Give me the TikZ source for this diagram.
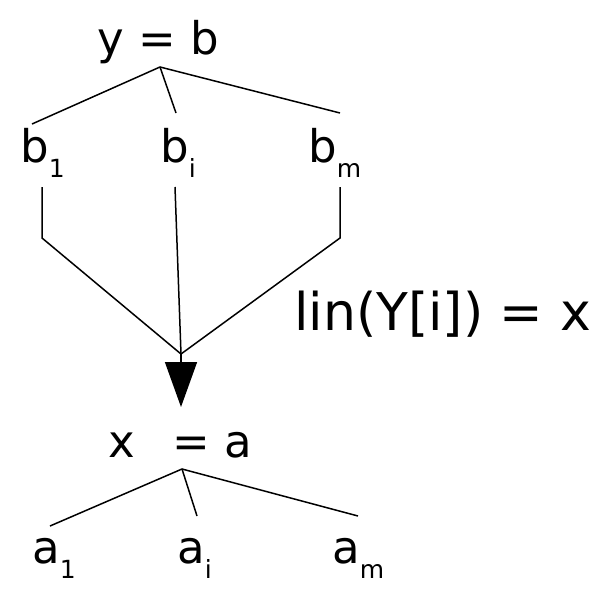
\documentclass[tikz,border=0pt]{standalone}
\usepackage{fontspec}
\setmainfont{DejaVu Sans}
\usetikzlibrary{arrows.meta}
\newcommand{\subidx}[1]{\raisebox{-15pt}{\fontsize{25}{28}\selectfont #1}}

\begin{document}
\begin{tikzpicture}[x=1pt, y=-1pt, >={Triangle[length=45pt, width=32pt]},
  term/.style={font=\fontsize{45}{50}\selectfont, inner sep=0pt, anchor=base west},
  edge/.style={line width=1.5pt}]
  \useasboundingbox (0,0) rectangle (601,594);

  % Upper tuple y = b and its components
  \node[term] (ytop) at (97,55) {y = b};
  \node[term] (b1) at (20,162) {b\subidx{1}};
  \node[term] (bi) at (160,162) {b\subidx{i}};
  \node[term] (bm) at (308,162) {b\subidx{m}};

  \coordinate (ytip) at (160,67);
  \coordinate (b1top) at (32,124);
  \coordinate (bitop) at (176,113);
  \coordinate (bmtop) at (340,113);
  \draw[edge] (b1top) -- (ytip) -- (bmtop);
  \draw[edge] (ytip) -- (bitop);

  % Component lines merging into the arrow
  \coordinate (b1low) at (42,187);
  \coordinate (bilow) at (175,187);
  \coordinate (bmlow) at (340,187);
  \coordinate (b1bend) at (42,238);
  \coordinate (bmbend) at (340,238);
  \coordinate (merge) at (181,354);
  \coordinate (arrowend) at (181,407);
  \draw[edge] (b1low) -- (b1bend) -- (merge) -- (bmbend) -- (bmlow);
  \draw[edge] (bilow) -- (merge);
  \draw[edge, ->] (merge) -- (arrowend);

  % Label of the mapping
  \node[term, font=\fontsize{52}{58}\selectfont] (lin) at (294,330) {lin(Y[i]) = x};

  % Lower tuple x = a and its components
  \node[term] (xbot) at (108,457) {x\hspace{38pt}= a};
  \node[term] (a1) at (32,563) {a\subidx{1}};
  \node[term] (ai) at (177,563) {a\subidx{i}};
  \node[term] (am) at (332,563) {a\subidx{m}};

  \coordinate (xtip) at (182,469);
  \coordinate (a1top) at (50,526);
  \coordinate (aitop) at (197,516);
  \coordinate (amtop) at (358,516);
  \draw[edge] (a1top) -- (xtip) -- (amtop);
  \draw[edge] (xtip) -- (aitop);
\end{tikzpicture}
\end{document}
